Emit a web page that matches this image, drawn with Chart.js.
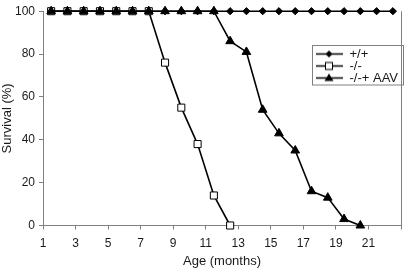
<!DOCTYPE html>
<html>
<head>
<meta charset="utf-8">
<script src="https://cdn.jsdelivr.net/npm/chart.js@4.4.0/dist/chart.umd.min.js"></script>
<style>
html,body{margin:0;padding:0;background:#fff;}
canvas{display:block;}
</style>
</head>
<body>
<canvas id="c" width="408" height="269"></canvas>
<script>
// ---- data ----
const ageMonths = [1.5, 2.5, 3.5, 4.5, 5.5, 6.5, 7.5, 8.5, 9.5, 10.5, 11.5, 12.5, 13.5, 14.5, 15.5, 16.5, 17.5, 18.5, 19.5, 20.5, 21.5, 22.5];
const wildTypeSurvival = [100, 100, 100, 100, 100, 100, 100, 100, 100, 100, 100, 100, 100, 100, 100, 100, 100, 100, 100, 100, 100, 100];
const knockoutSurvival = [100, 100, 100, 100, 100, 100, 100, 76, 55, 38, 14, 0];
const aavSurvival = [100, 100, 100, 100, 100, 100, 100, 100, 100, 100, 100, 86, 81, 54, 43, 35, 16, 13, 3, 0];
const seriesNames = ['+/+', '-/-', '-/-+ AAV'];
const xTickLabels = ['1', '3', '5', '7', '9', '11', '13', '15', '17', '19', '21'];
const yTickLabels = ['0', '20', '40', '60', '80', '100'];
const xAxisTitle = 'Age (months)';
const yAxisTitle = 'Survival (%)';

const FONT = "'Liberation Sans', Arial, Helvetica, sans-serif";
const AXIS = '#808080';
const TEXT = '#1a1a1a';

function toPoints(values) {
  return values.map((v, i) => ({ x: ageMonths[i], y: v }));
}

// legend samples: short line with marker in the middle
function legendSample(kind) {
  const c = document.createElement('canvas');
  c.width = 28; c.height = 11;
  const g = c.getContext('2d');
  const cy = 5.5, cx = 14;
  g.strokeStyle = '#000'; g.lineWidth = 1.5;
  g.beginPath(); g.moveTo(0, cy); g.lineTo(28, cy); g.stroke();
  g.lineWidth = 1;
  if (kind === 'diamond') {
    g.fillStyle = '#000';
    g.beginPath(); g.moveTo(cx, cy - 3.5); g.lineTo(cx + 3.5, cy); g.lineTo(cx, cy + 3.5); g.lineTo(cx - 3.5, cy); g.closePath(); g.fill();
  } else if (kind === 'square') {
    g.fillStyle = '#fff';
    g.fillRect(cx - 3.5, cy - 3.5, 7, 7);
    g.strokeRect(cx - 3.5, cy - 3.5, 7, 7);
  } else {
    g.fillStyle = '#000';
    g.beginPath(); g.moveTo(cx, cy - 4.5); g.lineTo(cx + 4.5, cy + 3); g.lineTo(cx - 4.5, cy + 3); g.closePath(); g.fill();
  }
  return c;
}
const legendSamples = [legendSample('diamond'), legendSample('square'), legendSample('triangle')];

const legendBoxPlugin = {
  id: 'legendBox',
  afterLayout(chart) {
    const lg = chart.legend;
    if (!lg) return;
    const p = lg.options.labels.padding;
    lg.left = 315 - p;
    lg.top = 47.5 - p;
    lg.right = 404;
    lg.bottom = 88;
    lg.width = lg.right - lg.left;
    lg.height = lg.bottom - lg.top;
  },
  beforeDraw(chart) {
    const ctx = chart.ctx;
    ctx.save();
    ctx.fillStyle = '#fff';
    ctx.fillRect(0, 0, chart.width, chart.height);
    ctx.restore();
  },
  afterDraw(chart) {
    const ctx = chart.ctx;
    ctx.save();
    ctx.strokeStyle = AXIS;
    ctx.lineWidth = 1;
    ctx.strokeRect(312.5, 45.5, 91, 39.5);
    ctx.restore();
  }
};

new Chart(document.getElementById('c'), {
  type: 'line',
  data: {
    datasets: [
      {
        label: seriesNames[0],
        data: toPoints(wildTypeSurvival),
        borderColor: '#000', borderWidth: 1.6,
        pointStyle: 'rectRot', pointRadius: 3.6,
        pointBackgroundColor: '#000', pointBorderColor: '#000', pointBorderWidth: 1,
        tension: 0, clip: false, order: 3
      },
      {
        label: seriesNames[1],
        data: toPoints(knockoutSurvival),
        borderColor: '#000', borderWidth: 1.6,
        pointStyle: 'rect', pointRadius: 5,
        pointBackgroundColor: '#fff', pointBorderColor: '#000', pointBorderWidth: 1,
        tension: 0, clip: false, order: 2
      },
      {
        label: seriesNames[2],
        data: toPoints(aavSurvival),
        borderColor: '#000', borderWidth: 1.6,
        pointStyle: 'triangle', pointRadius: 5,
        pointBackgroundColor: '#000', pointBorderColor: '#000', pointBorderWidth: 1,
        tension: 0, clip: false, order: 1
      }
    ]
  },
  options: {
    responsive: false,
    animation: false,
    devicePixelRatio: 1,
    layout: { padding: { left: 0, top: 9, right: 1.5, bottom: 0 } },
    plugins: {
      tooltip: { enabled: false },
      legend: {
        display: true,
        position: 'chartArea',
        align: 'start',
        labels: {
          usePointStyle: true,
          pointStyleWidth: 28,
          padding: -1,
          color: TEXT,
          font: { family: FONT, size: 13 },
          generateLabels: () => seriesNames.map((name, i) => ({
            text: name,
            pointStyle: legendSamples[i],
            datasetIndex: i,
            hidden: false,
            fillStyle: '#000',
            strokeStyle: '#000',
            lineWidth: 0,
            fontColor: TEXT
          }))
        }
      }
    },
    scales: {
      x: {
        type: 'linear',
        min: 1, max: 23,
        afterFit(s) { s.height = 43.5; },
        ticks: {
          stepSize: 2, autoSkip: false, maxRotation: 0, padding: 7,
          color: TEXT, font: { family: FONT, size: 12 },
          callback: (v) => xTickLabels.includes(String(v)) ? String(v) : ''
        },
        grid: {
          drawOnChartArea: true,
          color: (c) => (c.tick && c.tick.value === 23) ? AXIS : 'rgba(0,0,0,0)',
          tickColor: AXIS, tickLength: 4, lineWidth: 1
        },
        border: { display: true, color: AXIS, width: 1 },
        title: {
          display: true, text: xAxisTitle, color: TEXT,
          font: { family: FONT, size: 13 }, padding: { top: 0, bottom: 0 }
        }
      },
      y: {
        min: 0, max: 100,
        afterFit(s) { s.width = 43; },
        ticks: {
          stepSize: 20, padding: 4,
          color: TEXT, font: { family: FONT, size: 12 },
          callback: (v) => yTickLabels.includes(String(v)) ? String(v) : ''
        },
        grid: { drawOnChartArea: false, tickColor: AXIS, color: AXIS, tickLength: 4 },
        border: { display: true, color: AXIS, width: 1 },
        title: {
          display: true, text: yAxisTitle, color: TEXT,
          font: { family: FONT, size: 13 }, padding: { top: 0, bottom: 0 }
        }
      }
    }
  },
  plugins: [legendBoxPlugin]
});
</script>
</body>
</html>
